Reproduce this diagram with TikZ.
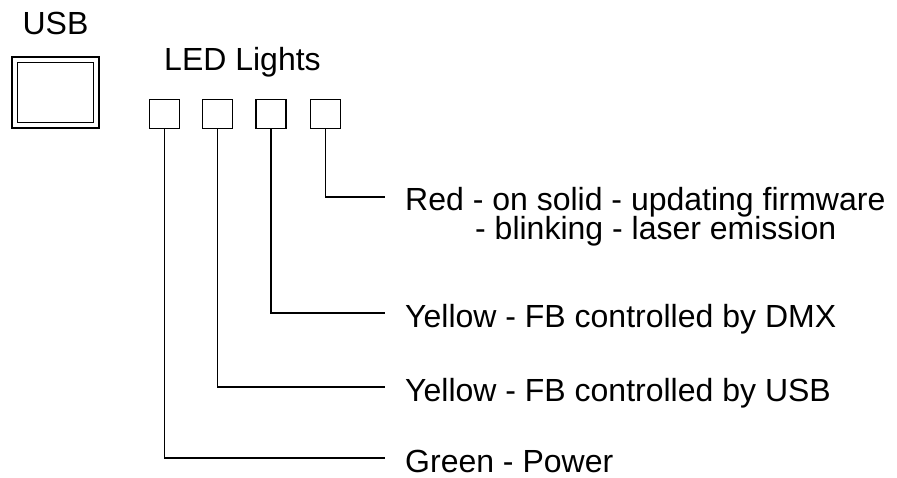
\documentclass[tikz,border=0pt]{standalone}
\usepackage{fontspec}
\setmainfont{Liberation Sans}
\usetikzlibrary{positioning}
\tikzset{
    ledbox/.style={draw, line width=1.2pt, minimum width=30pt, minimum height=29pt, inner sep=0pt},
    lbl/.style={font=\fontsize{32}{36}\selectfont, inner sep=0pt, anchor=base west},
    wire/.style={line width=1.2pt},
}
\begin{document}
\begin{tikzpicture}[x=1pt, y=-1pt]
        \useasboundingbox (0,0) rectangle (897,478);

        % USB port
        \node[lbl, anchor=base] (usblbl) at (55.5,35) {USB};
        \node[draw, line width=1.2pt, double, double distance=4.3pt, minimum width=81.5pt, minimum height=65.5pt, inner sep=0pt] (usb) at (55.5,92.5) {};

        % LED lights
        \node[lbl, anchor=base] (ledlbl) at (242.5,71) {LED Lights};
        \node[ledbox] (led1) at (164.5,114) {};
        \node[ledbox, right=22pt of led1] (led2) {};
        \node[ledbox, right=22pt of led2] (led3) {};
        \node[ledbox, right=23pt of led3] (led4) {};

        % descriptions
        \node[lbl] (red) at (405,211) {Red - on solid - updating firmware};
        \node[lbl] (redb) at (475,240) {- blinking - laser emission};
        \node[lbl] (dmx) at (405,327) {Yellow - FB controlled by DMX};
        \node[lbl] (usbled) at (405,401) {Yellow - FB controlled by USB};
        \node[lbl] (green) at (405,472) {Green - Power};

        \draw[wire] (led4.south) |- ([shift={(-20,-14)}]red.base west);
        \draw[wire] (led3.south) |- ([shift={(-20,-14)}]dmx.base west);
        \draw[wire] (led2.south) |- ([shift={(-20,-14)}]usbled.base west);
        \draw[wire] (led1.south) |- ([shift={(-20,-14)}]green.base west);
    \end{tikzpicture}
\end{document}
